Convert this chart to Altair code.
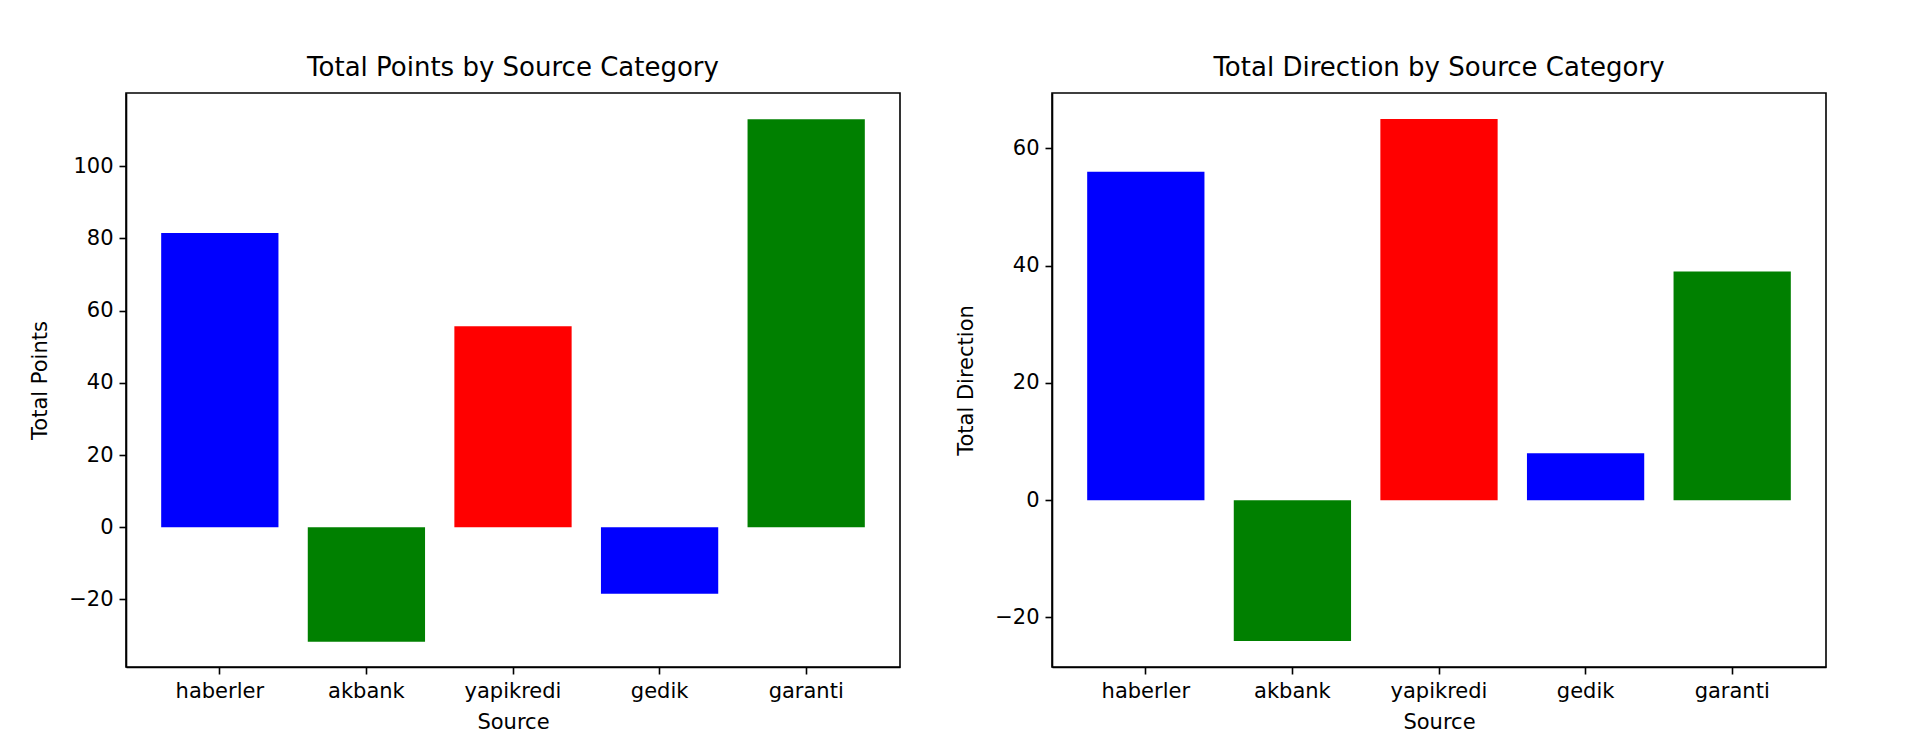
import altair as alt
import pandas as pd

sources = ["haberler", "akbank", "yapikredi", "gedik", "garanti"]
bar_colors = ["blue", "green", "red", "blue", "green"]
total_points = [81.5, -31.7, 55.7, -18.4, 113.0]
total_direction = [56, -24, 65, 8, 39]

FONT = "DejaVu Sans"


def panel(values, field, title, domain, ticks):
    frame = pd.DataFrame({"Source": sources, field: values, "color": bar_colors})
    return (
        alt.Chart(frame, title=title)
        .mark_bar()
        .encode(
            x=alt.X(
                "Source:N",
                sort=sources,
                scale=alt.Scale(paddingInner=0.2, paddingOuter=0.24),
                axis=alt.Axis(labelAngle=0, titlePadding=10),
            ),
            y=alt.Y(
                f"{field}:Q",
                title=field,
                scale=alt.Scale(domain=domain, nice=False, zero=False),
                axis=alt.Axis(values=ticks, titlePadding=18,
                              labelExpr="replace(datum.label, '-', '\u2212')"),
            ),
            color=alt.Color("color:N", scale=None),
        )
        .properties(width=774, height=574)
    )


left = panel(total_points, "Total Points", "Total Points by Source Category",
             [-38.7, 120.3], [-20, 0, 20, 40, 60, 80, 100])
right = panel(total_direction, "Total Direction", "Total Direction by Source Category",
              [-28.45, 69.45], [-20, 0, 20, 40, 60])

chart = (
    alt.hconcat(left, right, spacing=53)
    .properties(padding={"left": 20, "top": 46, "right": 10, "bottom": 10})
    .configure_view(stroke="black", strokeWidth=1.6)
    .configure_axis(
        labelFont=FONT, titleFont=FONT, labelFontSize=21, titleFontSize=21,
        labelColor="black", titleColor="black", titleFontWeight="normal",
        domainColor="black", tickColor="black", domainWidth=1.6, tickWidth=1.6,
        tickSize=7, labelPadding=6, grid=False,
    )
    .configure_title(font=FONT, fontSize=26, fontWeight="normal", color="black", offset=12)
)

chart.save("out.html", embed_options={"renderer": "svg", "actions": False})
